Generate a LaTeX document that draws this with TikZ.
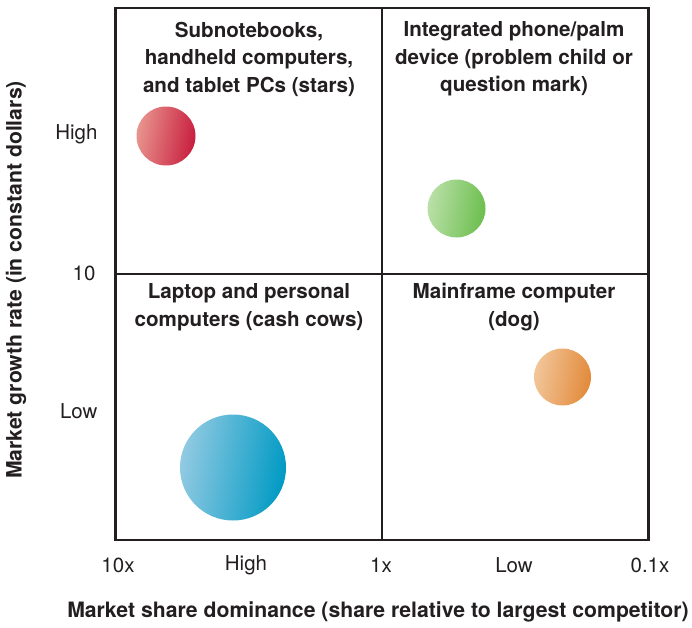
\documentclass[tikz,border=0pt]{standalone}
\usepackage{fontspec}
\setmainfont{TeX Gyre Heros}
\usepackage{tikz}
\usetikzlibrary{positioning}
\usepackage{xcolor}
\definecolor{ink}{RGB}{35,31,32}
\definecolor{starsdark}{RGB}{200,30,62}
\definecolor{starslight}{RGB}{232,148,142}
\definecolor{markdark}{RGB}{108,190,78}
\definecolor{marklight}{RGB}{186,224,168}
\definecolor{cowsdark}{RGB}{0,154,196}
\definecolor{cowslight}{RGB}{146,202,226}
\definecolor{dogdark}{RGB}{226,138,58}
\definecolor{doglight}{RGB}{242,198,154}
\tikzset{frame/.style={draw=ink, line width=2.6pt},
         quadtitle/.style={font=\bfseries\fontsize{20.6}{27.5}\selectfont, align=center, text=ink},
         scalelabel/.style={font=\fontsize{20.5}{24}\selectfont, text=ink},
         axistitle/.style={font=\bfseries\fontsize{21.2}{24}\selectfont, text=ink},
         bubble/.style={circle, inner sep=0pt}}

\begin{document}
\begin{tikzpicture}[x=1pt, y=-1pt]

        \useasboundingbox (0,0) rectangle (692,627);

        % Frame and quadrant dividers
        \coordinate (nw) at (115.5,8);
        \coordinate (se) at (648.5,540);
        \draw[frame] (nw) rectangle (se);
        \draw[frame] (382,8) -- (382,540);
        \draw[frame] (115.5,274) -- (648.5,274);

        % Quadrant titles
        \node[quadtitle] (starsT) at (249,59) {Subnotebooks,\\handheld computers,\\and tablet PCs (stars)};
        \node[quadtitle] (markT) at (514,59) {Integrated phone/palm\\device (problem child or\\question mark)};
        \node[quadtitle] (cowsT) at (249,307) {Laptop and personal\\computers (cash cows)};
        \node[quadtitle] (dogT) at (514,307) {Mainframe computer\\(dog)};

        % Bubbles
        \node[bubble, minimum size=59pt, left color=starslight, right color=starsdark, shading angle=80] (stars) at (166,136) {};
        \node[bubble, minimum size=58pt, left color=marklight, right color=markdark, shading angle=80] (mark) at (456.5,208.5) {};
        \node[bubble, minimum size=106pt, left color=cowslight, right color=cowsdark, shading angle=80] (cows) at (233,467.5) {};
        \node[bubble, minimum size=57pt, left color=doglight, right color=dogdark, shading angle=80] (dog) at (562.5,377) {};

        % Growth rate scale
        \node[scalelabel, anchor=east] (gHigh) at (101,134) {High};
        \node[scalelabel, anchor=east] (gTen) at (99,273) {10};
        \node[scalelabel, anchor=east] (gLow) at (101,411) {Low};

        % Share scale
        \node[scalelabel] (sTen) at (118,565) {10x};
        \node[scalelabel] (sHigh) at (246,565) {High};
        \node[scalelabel] (sOne) at (381,565) {1x};
        \node[scalelabel] (sLow) at (514,565) {Low};
        \node[scalelabel] (sTenth) at (650,565) {0.1x};

        % Axis titles
        \node[axistitle] (shareT) at (378,612) {Market share dominance (share relative to largest competitor)};
        \node[axistitle, rotate=90] (growthT) at (16,280) {Market growth rate (in constant dollars)};

    \end{tikzpicture}
\end{document}
